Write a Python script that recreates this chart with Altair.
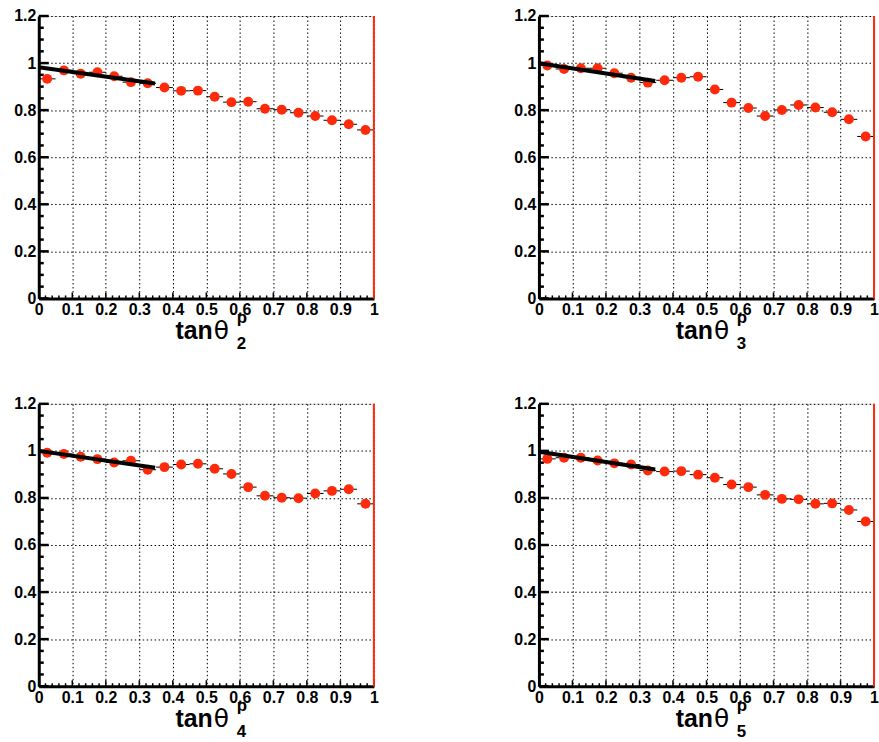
import altair as alt
import pandas as pd

# ---------------- data ----------------
bin_centers = [0.025, 0.075, 0.125, 0.175, 0.225, 0.275, 0.325, 0.375, 0.425, 0.475,
               0.525, 0.575, 0.625, 0.675, 0.725, 0.775, 0.825, 0.875, 0.925, 0.975]
bin_half_width = 0.025

eff_2 = [0.933, 0.969, 0.955, 0.961, 0.944, 0.919, 0.914, 0.896, 0.882, 0.883,
         0.857, 0.834, 0.836, 0.806, 0.802, 0.789, 0.775, 0.757, 0.740, 0.716]
eff_3 = [0.990, 0.975, 0.978, 0.978, 0.957, 0.938, 0.917, 0.927, 0.938, 0.942,
         0.888, 0.832, 0.809, 0.775, 0.801, 0.822, 0.811, 0.791, 0.761, 0.688]
eff_4 = [0.992, 0.987, 0.975, 0.965, 0.951, 0.958, 0.920, 0.931, 0.942, 0.945,
         0.924, 0.902, 0.846, 0.809, 0.801, 0.799, 0.819, 0.830, 0.837, 0.775]
eff_5 = [0.966, 0.971, 0.971, 0.959, 0.947, 0.942, 0.917, 0.912, 0.914, 0.899,
         0.886, 0.857, 0.846, 0.813, 0.796, 0.794, 0.775, 0.777, 0.749, 0.700]

fit_x = [0.0, 0.347]
fit_2 = [0.982, 0.913]
fit_3 = [0.999, 0.924]
fit_4 = [1.000, 0.928]
fit_5 = [0.996, 0.921]

panel_subscripts = ["2", "3", "4", "5"]
panel_values = [eff_2, eff_3, eff_4, eff_5]
panel_fits = [fit_2, fit_3, fit_4, fit_5]

x_tick_labels = [0, 0.1, 0.2, 0.3, 0.4, 0.5, 0.6, 0.7, 0.8, 0.9, 1]
y_tick_labels = [0, 0.2, 0.4, 0.6, 0.8, 1, 1.2]
x_minor_ticks = [round(i * 0.02, 2) for i in range(51) if i % 5 != 0]
y_minor_ticks = [round(i * 0.05, 2) for i in range(25) if i % 4 != 0]

# ---------------- style ----------------
W, H = 337, 284
RED = "#ff2a0a"
FONT = "Liberation Sans"

xscale = alt.Scale(domain=[0, 1], nice=False, zero=False)
yscale = alt.Scale(domain=[0, 1.2], nice=False, zero=False)


def axis(values):
    return alt.Axis(values=values, format="~g", grid=True, gridColor="black",
                    gridDash=[1.5, 2.5], gridWidth=1, gridOpacity=1, ticks=False,
                    domainColor="black", domainWidth=3, labelFont=FONT,
                    labelFontWeight="bold", labelFontSize=16, labelColor="black",
                    labelPadding=3, labelFlush=False, labelOverlap=False, title=None)


XAX = axis(x_tick_labels)
YAX = axis(y_tick_labels)


def X(f):
    return alt.X(f, scale=xscale, axis=XAX, title=None)


def Y(f):
    return alt.Y(f, scale=yscale, axis=YAX, title=None)


def panel(k):
    df = pd.DataFrame({"x": bin_centers, "y": panel_values[k]})
    df["xlo"] = df["x"] - bin_half_width
    df["xhi"] = df["x"] + bin_half_width
    fit = pd.DataFrame({"x": fit_x, "y": panel_fits[k]})

    base = alt.Chart(df)
    errs = base.mark_rule(color="black", strokeWidth=1).encode(
        x=X("xlo:Q"), x2="xhi:Q", y=Y("y:Q"))
    pts = base.mark_circle(color=RED, opacity=1, size=100).encode(
        x=X("x:Q"), y=Y("y:Q"))
    fitline = alt.Chart(fit).mark_line(color="black", strokeWidth=4).encode(
        x=X("x:Q"), y=Y("y:Q"))

    ymaj = alt.Chart(pd.DataFrame({"v": y_tick_labels})).mark_rule(
        color="black", strokeWidth=2.5).encode(
        y=Y("v:Q"), x=alt.value(0), x2=alt.value(10))
    ymin = alt.Chart(pd.DataFrame({"v": y_minor_ticks})).mark_rule(
        color="black", strokeWidth=2.5).encode(
        y=Y("v:Q"), x=alt.value(0), x2=alt.value(5))
    xmaj = alt.Chart(pd.DataFrame({"v": x_tick_labels})).mark_rule(
        color="black", strokeWidth=1.5).encode(
        x=X("v:Q"), y=alt.value(H), y2=alt.value(H - 6))
    xmin = alt.Chart(pd.DataFrame({"v": x_minor_ticks})).mark_rule(
        color="black", strokeWidth=1.5).encode(
        x=X("v:Q"), y=alt.value(H), y2=alt.value(H - 3))
    redline = alt.Chart(pd.DataFrame({"v": [1]})).mark_rule(
        color=RED, strokeWidth=2).encode(
        x=X("v:Q"), y=alt.value(0), y2=alt.value(H))

    one = pd.DataFrame({"a": [0]})
    t_tan = alt.Chart(one).mark_text(text="tan", font=FONT, fontWeight="bold",
                                     fontSize=25, align="right", baseline="alphabetic",
                                     color="black").encode(x=alt.value(175), y=alt.value(325))
    t_theta = alt.Chart(one).mark_text(text="θ", font="DejaVu Sans", fontWeight="normal",
                                       fontSize=25, align="left", baseline="alphabetic",
                                       color="black").encode(x=alt.value(176), y=alt.value(325))
    t_sup = alt.Chart(one).mark_text(text="p", font=FONT, fontWeight="bold",
                                     fontSize=17, align="left", baseline="alphabetic",
                                     color="black").encode(x=alt.value(199), y=alt.value(309))
    t_sub = alt.Chart(one).mark_text(text=panel_subscripts[k], font=FONT, fontWeight="bold",
                                     fontSize=17, align="left", baseline="alphabetic",
                                     color="black").encode(x=alt.value(199), y=alt.value(335))

    return alt.layer(ymin, ymaj, xmin, xmaj, errs, pts, fitline, redline,
                     t_tan, t_theta, t_sup, t_sub).properties(width=W, height=H)


chart = alt.concat(
    panel(0), panel(1), panel(2), panel(3),
    columns=2, spacing={"row": 106, "column": 166}, bounds="flush",
).properties(
    padding={"left": 13, "top": 5, "right": 0, "bottom": 0}
).configure_view(stroke=None).configure(background="white")

chart.save("out.html", embed_options={"renderer": "svg", "actions": False})
